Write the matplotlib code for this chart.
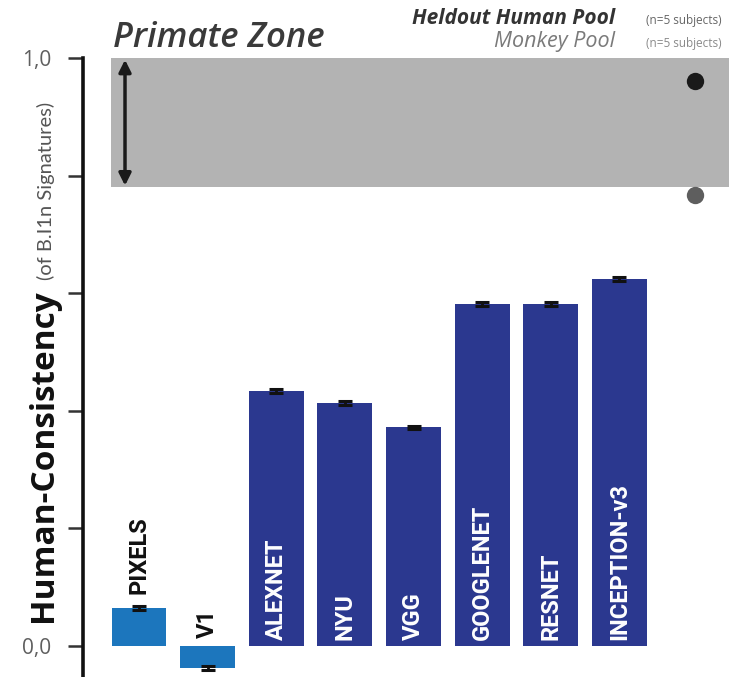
import matplotlib
matplotlib.use("Agg")
import matplotlib.pyplot as plt

# Model consistency with human behaviour
models = ["PIXELS", "V1", "ALEXNET", "NYU", "VGG", "GOOGLENET", "RESNET", "INCEPTION-v3"]
consistency = [0.065, -0.037, 0.434, 0.413, 0.372, 0.582, 0.582, 0.624]
errors = [0.003, 0.003, 0.003, 0.003, 0.003, 0.003, 0.003, 0.003]
bar_colors = ["#1c76bd", "#1c76bd", "#2b388f", "#2b388f", "#2b388f", "#2b388f", "#2b388f", "#2b388f"]
label_colors = ["#111111", "#111111", "white", "white", "white", "white", "white", "white"]

# Primate reference pools
pool_names = ["Heldout Human Pool", "Monkey Pool"]
pool_values = [0.961, 0.767]
pool_colors = ["#1a1a1a", "#5e5e5e"]
primate_zone = (0.78, 1.0)

ytick_values = [0.0, 0.2, 0.4, 0.6, 0.8, 1.0]
ytick_labels = ["0,0", "", "", "", "", "1,0"]

W, H = 729, 677
fig = plt.figure(figsize=(W / 100, H / 100), dpi=100)


def fx(px):
    return px / W


def fy(py):
    return 1 - py / H


sans = ["Open Sans", "DejaVu Sans"]
narrow = ["Lato", "DejaVu Sans"]
label_font = ["Roboto", "DejaVu Sans"]

ax = fig.add_axes([fx(83), 0, 1 - fx(83), 1 - 58 / H])
ax.set_xlim(-0.816, 8.596)
ax.set_ylim(-0.0527, 1.0)

# Primate zone band and arrow
ax.axhspan(primate_zone[0], primate_zone[1], xmin=0.0433, xmax=1.0,
           color="#b3b3b3", lw=0, zorder=0)
ax.annotate("", xy=(-0.204, primate_zone[1] - 0.003), xytext=(-0.204, primate_zone[0] + 0.003),
            arrowprops=dict(arrowstyle="<|-|>", color="#1a1a1a", lw=2.5,
                            mutation_scale=18, shrinkA=0, shrinkB=0), zorder=3)

# Model bars
xs = list(range(len(models)))
ax.bar(xs, consistency, width=0.80, color=bar_colors, edgecolor="none", zorder=2)
ax.errorbar(xs, consistency, yerr=errors, fmt="none", ecolor="#111111",
            elinewidth=2, capsize=5, capthick=2.2, zorder=3)

for x, v, name, c in zip(xs, consistency, models, label_colors):
    if c == "white":
        y0 = 0.010
    elif v >= 0:
        y0 = v + 0.024
    else:
        y0 = 0.014
    ax.text(x, y0, name, rotation=90, rotation_mode="anchor", ha="left", va="center",
            color=c, fontsize=17, fontweight="bold", family=label_font, zorder=4)

# Primate pool points
for v, c in zip(pool_values, pool_colors):
    ax.plot([8.1], [v], "o", ms=12.5, color=c, mec="none", zorder=4)

# Axes styling
for side in ["top", "right", "bottom"]:
    ax.spines[side].set_visible(False)
ax.spines["left"].set_linewidth(2.6)
ax.spines["left"].set_color("#111111")
ax.set_xticks([])
ax.set_yticks(ytick_values)
ax.set_yticklabels(ytick_labels)
ax.tick_params(axis="y", direction="out", length=11, width=1.8, color="#333333",
               pad=12, labelsize=15, labelcolor="#5f5f5f")
for lab in ax.get_yticklabels():
    lab.set_family(sans)

# Y-axis title
fig.text(fx(52), fy(622), "Human-Consistency", rotation=90, rotation_mode="anchor",
         ha="left", va="baseline", fontsize=24, fontweight="bold", color="#111111",
         family=sans)
fig.text(fx(52), fy(280), "(of B.I1n Signatures)", rotation=90, rotation_mode="anchor",
         ha="left", va="baseline", fontsize=14.5, color="#555555", family=narrow)

# Headings
fig.text(fx(113), fy(47), "Primate Zone", ha="left", va="baseline", fontsize=25,
         style="italic", fontweight="semibold", color="#3a3a3a", family=sans)
fig.text(fx(615), fy(24), pool_names[0], ha="right", va="baseline", fontsize=15,
         style="italic", fontweight="bold", color="#333333", family=sans)
fig.text(fx(722), fy(24), "(n=5 subjects)", ha="right", va="baseline", fontsize=8.5,
         color="#666666", family=sans)
fig.text(fx(615), fy(47), pool_names[1], ha="right", va="baseline", fontsize=15.5,
         style="italic", color="#7a7a7a", family=sans)
fig.text(fx(722), fy(47), "(n=5 subjects)", ha="right", va="baseline", fontsize=8.5,
         color="#8a8a8a", family=sans)

fig.savefig("out.png", dpi=100)
